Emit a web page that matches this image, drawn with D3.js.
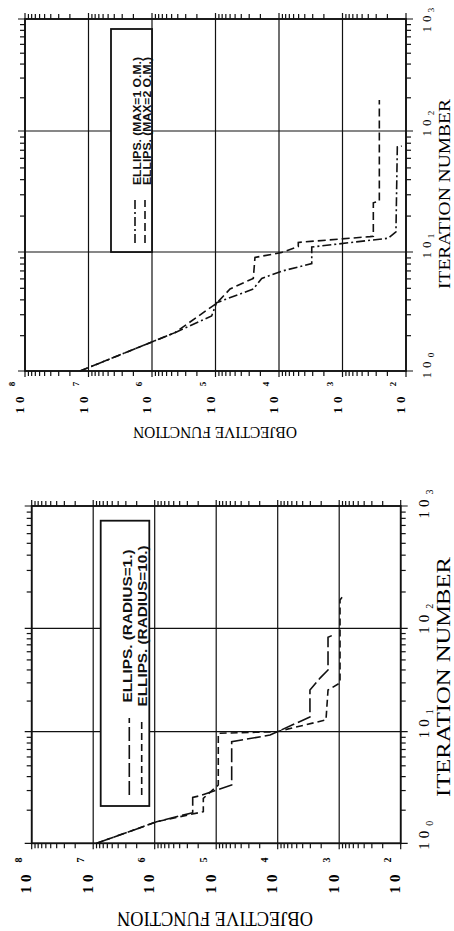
<!DOCTYPE html>
<html>
<head>
<meta charset="utf-8">
<script src="https://cdn.jsdelivr.net/npm/d3@7"></script>
<style>
body { margin: 0; background: #fff; }
svg { display: block; }
</style>
</head>
<body>
<svg width="454" height="931"></svg>
<script>
// axis values
const iterDecades = [1, 10, 100, 1000];
const iterExponents = ['0', '1', '2', '3'];
const objDecades = [1e8, 1e7, 1e6, 1e5, 1e4, 1e3, 1e2];
const objExponents = ['8', '7', '6', '5', '4', '3', '2'];

// [iteration, objective function]
const ellipsMax1 = [[1, 1.36e7], [2.1, 4.35e5], [2.9, 1.15e5], [3.75, 9.6e4], [4.89, 2.54e4], [6.0, 1.87e4],
    [6.9, 9.1e3], [8.0, 3.05e3], [11.0, 3.05e3], [13.0, 190], [14.7, 144], [74, 137], [75, 117]];
const ellipsMax2 = [[1, 1.36e7], [2.1, 4.35e5], [3.71, 9.6e4], [4.89, 5.9e4], [6.0, 2.54e4], [9.0, 2.39e4],
    [9.9, 9.1e3], [11.1, 4.97e3], [12.0, 4.97e3], [13.4, 369], [13.5, 327], [25.5, 327], [26.4, 263], [189, 263]];
const ellipsRadius1 = [[1, 8.8e6], [1.56, 9.3e5], [1.88, 2.41e5], [2.58, 2.41e5], [2.67, 1.83e5], [3.33, 5.6e4],
    [8.13, 5.6e4], [9.33, 1.33e4], [13.9, 2.99e3], [25.3, 2.99e3], [33, 2.05e3], [39.5, 1.52e3], [82, 1.52e3], [86, 1.26e3]];
const ellipsRadius10 = [[1, 8.8e6], [1.56, 9.3e5], [1.92, 1.62e5], [2.53, 1.62e5], [3.33, 9.25e4], [9.68, 9.25e4],
    [10, 1.04e4], [13.0, 1.64e3], [25.3, 1.52e3], [29.6, 970], [170, 970], [184, 867]];

const legendTop = ['ELLIPS. (MAX=1 O.M.)', 'ELLIPS. (MAX=2 O.M.)'];
const legendBottom = ['ELLIPS. (RADIUS=1.)', 'ELLIPS. (RADIUS=10.)'];

const panels = [
    {
        left: 25, right: 406, yStops: [371, 252, 131, 19],
        series: [ellipsMax1, ellipsMax2], dashes: ['9,3,2,3', '8,4'],
        legend: legendTop, box: [111, 29, 152, 252],
        legendX: [137, 147], legendMid: 121, legendLen: [128, 128], legendSize: 10,
        sampleX: [135, 145], sampleY: [243, 200],
        tickSize: 13, expSize: 9, objLabY: 403, objExpY: 384,
        iterLabX: 426, iterExpX: 431,
        iterLabDy: [-3, -4, -5, 3], iterExpDy: [-16, -16, -18, -9],
        yTitle: [215, 432, 164, 17], xTitle: [444, 194, 190, 17]
    },
    {
        left: 31.7, right: 400.7, yStops: [843.3, 731.7, 628.3, 506],
        series: [ellipsRadius1, ellipsRadius10], dashes: ['14,4', '7,4'],
        legend: legendBottom, box: [100.7, 520.7, 149.3, 806],
        legendX: [128.3, 143.3], legendMid: 626, legendLen: [153, 161], legendSize: 12.5,
        sampleX: [129.3, 141.7], sampleY: [795, 718],
        tickSize: 15, expSize: 10, objLabY: 882, objExpY: 860,
        iterLabX: 424, iterExpX: 429,
        iterLabDy: [-5, -5, -6, 1], iterExpDy: [-20, -20, -22, -14],
        yTitle: [215, 919, 196, 20], xTitle: [443.5, 677, 240, 19]
    }
];

const svg = d3.select('svg');
const serif = '"Liberation Serif", "DejaVu Serif", serif';

panels.forEach(drawPanel);

function drawPanel(p) {
    const x = d3.scaleLog().domain([1e8, 1e2]).range([p.left, p.right]);
    const y = d3.scaleLog().domain(iterDecades).range(p.yStops);
    const g = svg.append('g');

    // minor ticks, pointing outward on every side
    const objMinor = [];
    objDecades.slice(1).forEach(d => { for (let k = 2; k < 10; k++) objMinor.push(d * k); });
    const iterMinor = [];
    iterDecades.slice(0, 3).forEach(d => { for (let k = 2; k < 10; k++) iterMinor.push(d * k); });

    const noDomain = s => s.select('.domain').remove();
    g.append('g').attr('transform', `translate(0,${y(1000)})`)
        .call(d3.axisTop(x).tickValues(objMinor).tickSize(5).tickSizeOuter(0).tickFormat('')).call(noDomain);
    g.append('g').attr('transform', `translate(0,${y(1)})`)
        .call(d3.axisBottom(x).tickValues(objMinor).tickSize(5).tickSizeOuter(0).tickFormat('')).call(noDomain);
    g.append('g').attr('transform', `translate(${x(1e8)},0)`)
        .call(d3.axisLeft(y).tickValues(iterMinor).tickSize(5).tickSizeOuter(0).tickFormat('')).call(noDomain);
    g.append('g').attr('transform', `translate(${x(1e2)},0)`)
        .call(d3.axisRight(y).tickValues(iterMinor).tickSize(5).tickSizeOuter(0).tickFormat('')).call(noDomain);
    g.selectAll('.tick line').attr('stroke', '#111').attr('stroke-width', 1.2);

    // decade grid, running a little past the frame
    g.selectAll('.vgrid').data(objDecades).join('line')
        .attr('x1', d => x(d)).attr('x2', d => x(d))
        .attr('y1', y(1000) - 6).attr('y2', y(1) + 6)
        .attr('stroke', '#111').attr('stroke-width', 1.2);
    g.selectAll('.hgrid').data(iterDecades).join('line')
        .attr('x1', x(1e8) - 7).attr('x2', x(1e2) + 7)
        .attr('y1', d => y(d)).attr('y2', d => y(d))
        .attr('stroke', '#111').attr('stroke-width', 1.2);
    g.append('rect')
        .attr('x', x(1e8)).attr('y', y(1000))
        .attr('width', x(1e2) - x(1e8)).attr('height', y(1) - y(1000))
        .attr('fill', 'none').attr('stroke', '#111').attr('stroke-width', 1.8);

    // legend box
    const [bx0, by0, bx1, by1] = p.box;
    g.append('rect').attr('x', bx0).attr('y', by0).attr('width', bx1 - bx0).attr('height', by1 - by0)
        .attr('fill', '#fff').attr('stroke', '#111').attr('stroke-width', 1.8);
    p.legend.forEach((t, i) => {
        g.append('text').text(t)
            .attr('transform', `translate(${p.legendX[i]},${p.legendMid}) rotate(-90)`)
            .attr('text-anchor', 'middle').attr('dominant-baseline', 'central')
            .attr('textLength', p.legendLen[i]).attr('lengthAdjust', 'spacingAndGlyphs')
            .style('font-family', '"Liberation Sans", Arial, sans-serif')
            .style('font-weight', 'bold').style('font-size', p.legendSize + 'px').attr('fill', '#111');
        g.append('line')
            .attr('x1', p.sampleX[i]).attr('x2', p.sampleX[i])
            .attr('y1', p.sampleY[0]).attr('y2', p.sampleY[1])
            .attr('stroke', '#111').attr('stroke-width', 1.6).attr('stroke-dasharray', p.dashes[i]);
    });

    // curves
    const line = d3.line().x(d => x(d[1])).y(d => y(d[0]));
    p.series.forEach((s, i) => {
        g.append('path').datum(s).attr('d', line)
            .attr('fill', 'none').attr('stroke', '#111').attr('stroke-width', 1.6)
            .attr('stroke-dasharray', p.dashes[i]);
    });

    // objective function tick labels (rotated)
    objDecades.forEach((d, i) => {
        g.append('text').text('10')
            .attr('transform', `translate(${x(d) - 5.5},${p.objLabY}) rotate(-90)`)
            .attr('text-anchor', 'middle').attr('dominant-baseline', 'central')
            .style('letter-spacing', '4px').style('font-family', serif)
            .style('font-weight', 'bold').style('font-size', p.tickSize + 'px');
        g.append('text').text(objExponents[i])
            .attr('transform', `translate(${x(d) - 13},${p.objExpY}) rotate(-90)`)
            .attr('text-anchor', 'middle').attr('dominant-baseline', 'central')
            .style('font-family', serif).style('font-weight', 'bold').style('font-size', p.expSize + 'px');
    });

    // iteration tick labels
    iterDecades.forEach((d, i) => {
        g.append('text').text('10')
            .attr('transform', `translate(${p.iterLabX},${y(d) + p.iterLabDy[i]}) rotate(-90)`)
            .attr('text-anchor', 'middle').attr('dominant-baseline', 'central')
            .style('letter-spacing', '4px').style('font-family', serif)
            .style('font-size', p.tickSize + 'px');
        g.append('text').text(iterExponents[i])
            .attr('transform', `translate(${p.iterExpX},${y(d) + p.iterExpDy[i]}) rotate(-90)`)
            .attr('text-anchor', 'middle').attr('dominant-baseline', 'central')
            .style('font-family', serif).style('font-size', p.expSize + 'px');
    });

    // axis titles
    const [tx, ty, tl, ts] = p.yTitle;
    g.append('text').text('OBJECTIVE FUNCTION')
        .attr('transform', `translate(${tx},${ty}) rotate(180)`)
        .attr('text-anchor', 'middle').attr('dominant-baseline', 'central')
        .attr('textLength', tl).attr('lengthAdjust', 'spacingAndGlyphs')
        .style('font-family', serif).style('font-size', ts + 'px');
    const [ix, iy, il, is] = p.xTitle;
    g.append('text').text('ITERATION NUMBER')
        .attr('transform', `translate(${ix},${iy}) rotate(-90)`)
        .attr('text-anchor', 'middle').attr('dominant-baseline', 'central')
        .attr('textLength', il).attr('lengthAdjust', 'spacingAndGlyphs')
        .style('font-family', serif).style('font-size', is + 'px');
}
</script>
</body>
</html>
